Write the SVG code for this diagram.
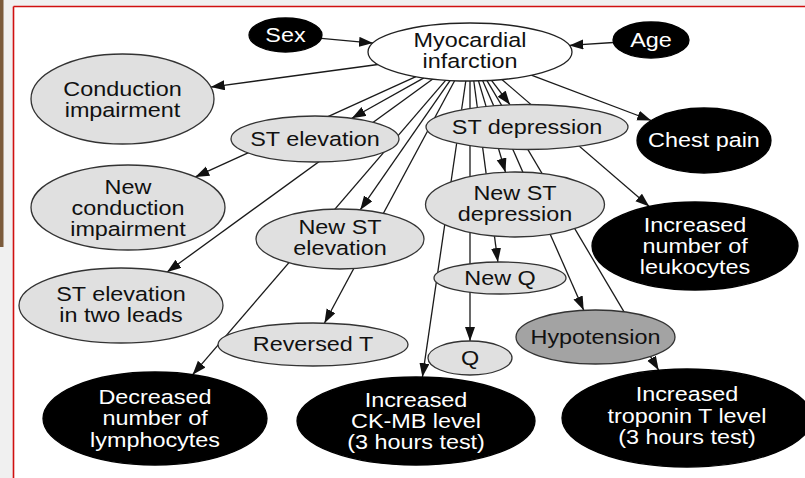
<svg xmlns="http://www.w3.org/2000/svg" width="805" height="478" viewBox="0 0 805 478">
<defs>
<style>
.t{font-family:"Liberation Sans",Arial,Helvetica,sans-serif;font-size:19.5px;text-anchor:middle}
.w{fill:#fff}
.k{fill:#111}
.blk{fill:#000;stroke:#000;stroke-width:1.3}
.lg{fill:#e0e0e0;stroke:#333;stroke-width:1.3}
.mi{fill:#fff;stroke:#222;stroke-width:1.3}
.hy{fill:#a3a3a3;stroke:#333;stroke-width:1.3}
.e{stroke:#1a1a1a;stroke-width:1.3;fill:none;marker-end:url(#ah)}
</style>
<marker id="ah" markerUnits="userSpaceOnUse" markerWidth="15" markerHeight="11" refX="14" refY="5" orient="auto">
<path d="M0,0 L14,5 L0,10 z" fill="#111"/>
</marker>
</defs>
<rect x="0" y="0" width="805" height="478" fill="#f0f0f0"/>
<rect x="0" y="0" width="3.5" height="247" fill="#7b5b3b"/>
<rect x="13.5" y="6.5" width="792" height="472" fill="#fff"/>
<line x1="13.5" y1="6.5" x2="805" y2="6.5" stroke="#d01010" stroke-width="1.6"/>
<line x1="13.5" y1="6.5" x2="13.5" y2="478" stroke="#d01010" stroke-width="1.6"/>

<g id="edges">
<line class="e" x1="321.3" y1="38.3" x2="373.0" y2="43.1"/>
<line class="e" x1="613.4" y1="42.5" x2="569.3" y2="45.4"/>
<line class="e" x1="377.9" y1="64.5" x2="210.7" y2="87.1"/>
<line class="e" x1="531.3" y1="75.2" x2="651.2" y2="120.5"/>
<line class="e" x1="423.9" y1="77.9" x2="351.8" y2="118.3"/>
<line class="e" x1="491.5" y1="80.3" x2="510.1" y2="104.8"/>
<line class="e" x1="415.9" y1="76.6" x2="195.3" y2="176.9"/>
<line class="e" x1="478.5" y1="80.9" x2="505.5" y2="172.2"/>
<line class="e" x1="501.9" y1="79.5" x2="649.3" y2="206.6"/>
<line class="e" x1="450.2" y1="80.4" x2="360.2" y2="209.9"/>
<line class="e" x1="432.8" y1="79.0" x2="167.1" y2="272.0"/>
<line class="e" x1="473.8" y1="81.0" x2="497.9" y2="262.0"/>
<line class="e" x1="454.6" y1="80.7" x2="324.4" y2="323.2"/>
<line class="e" x1="470" y1="81" x2="470" y2="341"/>
<line class="e" x1="482.7" y1="80.8" x2="583.7" y2="310.3"/>
<line class="e" x1="445.8" y1="80.2" x2="192.6" y2="374.7"/>
<line class="e" x1="465.8" y1="81.0" x2="422.4" y2="377.1"/>
<line class="e" x1="487.0" y1="80.6" x2="658.7" y2="370.3"/>
</g>

<g id="sex">
<ellipse class="blk" cx="285.5" cy="35" rx="36.5" ry="17"/>
<text class="t w" transform="translate(285.5 0) scale(1.2 1)" y="42">Sex</text>
</g>
<g id="mi">
<ellipse class="mi" cx="470" cy="52" rx="102" ry="29"/>
<text class="t k" transform="translate(470 0) scale(1.2 1)" y="47">Myocardial</text>
<text class="t k" transform="translate(470 0) scale(1.2 1)" y="68">infarction</text>
</g>
<g id="age">
<ellipse class="blk" cx="651" cy="40" rx="38" ry="18"/>
<text class="t w" transform="translate(651 0) scale(1.2 1)" y="47">Age</text>
</g>
<g id="ci">
<ellipse class="lg" cx="122.5" cy="99" rx="91.5" ry="45"/>
<text class="t k" transform="translate(122.5 0) scale(1.2 1)" y="96">Conduction</text>
<text class="t k" transform="translate(122.5 0) scale(1.2 1)" y="117">impairment</text>
</g>
<g id="ste">
<ellipse class="lg" cx="315" cy="139" rx="84" ry="23"/>
<text class="t k" transform="translate(315 0) scale(1.2 1)" y="146">ST elevation</text>
</g>
<g id="std">
<ellipse class="lg" cx="527" cy="127" rx="101" ry="22.5"/>
<text class="t k" transform="translate(527 0) scale(1.2 1)" y="134">ST depression</text>
</g>
<g id="chest">
<ellipse class="blk" cx="704" cy="140.5" rx="67" ry="32.5"/>
<text class="t w" transform="translate(704 0) scale(1.2 1)" y="147">Chest pain</text>
</g>
<g id="nci">
<ellipse class="lg" cx="128" cy="207.5" rx="97" ry="42.5"/>
<text class="t k" transform="translate(128 0) scale(1.2 1)" y="194">New</text>
<text class="t k" transform="translate(128 0) scale(1.2 1)" y="215">conduction</text>
<text class="t k" transform="translate(128 0) scale(1.2 1)" y="236">impairment</text>
</g>
<g id="nstd">
<ellipse class="lg" cx="515" cy="204.5" rx="89.5" ry="32.5"/>
<text class="t k" transform="translate(515 0) scale(1.2 1)" y="200">New ST</text>
<text class="t k" transform="translate(515 0) scale(1.2 1)" y="221">depression</text>
</g>
<g id="leuk">
<ellipse class="blk" cx="695" cy="246" rx="103" ry="44"/>
<text class="t w" transform="translate(695 0) scale(1.2 1)" y="232">Increased</text>
<text class="t w" transform="translate(695 0) scale(1.2 1)" y="253">number of</text>
<text class="t w" transform="translate(695 0) scale(1.2 1)" y="274">leukocytes</text>
</g>
<g id="nste">
<ellipse class="lg" cx="340" cy="239" rx="84" ry="30"/>
<text class="t k" transform="translate(340 0) scale(1.2 1)" y="234">New ST</text>
<text class="t k" transform="translate(340 0) scale(1.2 1)" y="255.5">elevation</text>
</g>
<g id="ste2">
<ellipse class="lg" cx="121" cy="305.5" rx="102" ry="37.5"/>
<text class="t k" transform="translate(121 0) scale(1.2 1)" y="301">ST elevation</text>
<text class="t k" transform="translate(121 0) scale(1.2 1)" y="322">in two leads</text>
</g>
<g id="newq">
<ellipse class="lg" cx="500" cy="278" rx="66" ry="16"/>
<text class="t k" transform="translate(500 0) scale(1.2 1)" y="285">New Q</text>
</g>
<g id="revt">
<ellipse class="lg" cx="313" cy="344.5" rx="95" ry="21.5"/>
<text class="t k" transform="translate(313 0) scale(1.2 1)" y="351.5">Reversed T</text>
</g>
<g id="q">
<ellipse class="lg" cx="470" cy="358" rx="42" ry="17"/>
<text class="t k" transform="translate(470 0) scale(1.2 1)" y="365">Q</text>
</g>
<g id="hypo">
<ellipse class="hy" cx="595.5" cy="337" rx="79.5" ry="27"/>
<text class="t k" transform="translate(595.5 0) scale(1.2 1)" y="344">Hypotension</text>
</g>
<g id="lymph">
<ellipse class="blk" cx="155" cy="418.5" rx="112" ry="46.5"/>
<text class="t w" transform="translate(155 0) scale(1.2 1)" y="404">Decreased</text>
<text class="t w" transform="translate(155 0) scale(1.2 1)" y="425.5">number of</text>
<text class="t w" transform="translate(155 0) scale(1.2 1)" y="447">lymphocytes</text>
</g>
<g id="ckmb">
<ellipse class="blk" cx="416" cy="421" rx="119" ry="44"/>
<text class="t w" transform="translate(416 0) scale(1.2 1)" y="407.5">Increased</text>
<text class="t w" transform="translate(416 0) scale(1.2 1)" y="428.5">CK-MB level</text>
<text class="t w" transform="translate(416 0) scale(1.2 1)" y="449.5">(3 hours test)</text>
</g>
<g id="trop">
<ellipse class="blk" cx="687" cy="418" rx="125" ry="49"/>
<text class="t w" transform="translate(687 0) scale(1.2 1)" y="401.5">Increased</text>
<text class="t w" transform="translate(687 0) scale(1.2 1)" y="423">troponin T level</text>
<text class="t w" transform="translate(687 0) scale(1.2 1)" y="444.5">(3 hours test)</text>
</g>
</svg>
